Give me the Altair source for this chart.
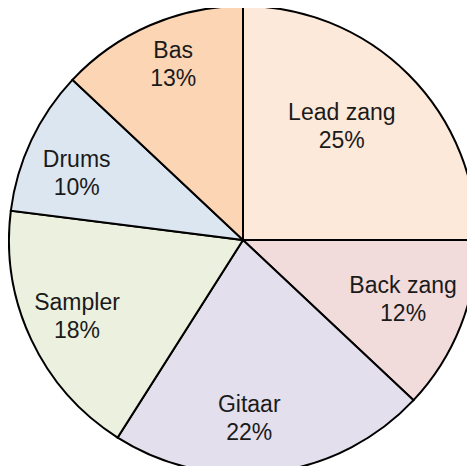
import altair as alt
import pandas as pd

categories = ["Lead zang", "Back zang", "Gitaar", "Sampler", "Drums", "Bas"]
values = [25, 12, 22, 18, 10, 13]
colors = ["#fde9d9", "#f2dcdb", "#e4dfec", "#ebf1de", "#dce6f1", "#fcd5b4"]

df = pd.DataFrame({
    "cat": categories,
    "val": values,
    "idx": list(range(len(categories))),
    "label": [[c, f"{v}%"] for c, v in zip(categories, values)],
})

# label placement tweaks (angle shift in degrees, label radius in px)
label_adjust = {
    "Lead zang": (-3.8, 150),
    "Back zang": (-1.0, 171),
    "Gitaar": (5.2, 179),
    "Sampler": (0.3, 183),
    "Drums": (-3.5, 179),
    "Bas": (1.6, 188),
}
ang_expr = " : ".join(f"datum.cat === '{k}' ? {a}" for k, (a, _) in label_adjust.items()) + " : 0"
rad_expr = " : ".join(f"datum.cat === '{k}' ? {r}" for k, (_, r) in label_adjust.items()) + " : 180"

base = alt.Chart(df).transform_window(
    cum="sum(val)", sort=[alt.SortField("idx")], frame=[None, 0]
).transform_joinaggregate(
    total="sum(val)"
).transform_calculate(
    t0="(datum.cum - datum.val) / datum.total * 2 * PI",
    t1="datum.cum / datum.total * 2 * PI",
    da=ang_expr,
    r=rad_expr,
).transform_calculate(
    tm="(datum.cum - datum.val / 2) / datum.total * 2 * PI + datum.da * PI / 180",
)

pie = base.mark_arc(stroke="black", strokeWidth=2).encode(
    theta=alt.Theta("t0:Q", scale=None),
    theta2="t1:Q",
    radius=alt.value(234),
    x=alt.value(235),
    y=alt.value(232),
    color=alt.Color("cat:N", scale=alt.Scale(domain=categories, range=colors), legend=None),
)

text = base.mark_text(font="Liberation Sans", fontSize=23, color="#1a1a1a", lineHeight=28,
                      baseline="middle", dy=-14).encode(
    theta=alt.Theta("tm:Q", scale=None),
    radius=alt.Radius("r:Q", scale=None),
    x=alt.value(235),
    y=alt.value(232),
    text="label",
)

chart = (pie + text).properties(
    width=459, height=458, padding=0,
    autosize=alt.AutoSizeParams(type="none"),
).configure_view(stroke=None)
chart.save("out.html", embed_options={"renderer": "svg", "actions": False})
